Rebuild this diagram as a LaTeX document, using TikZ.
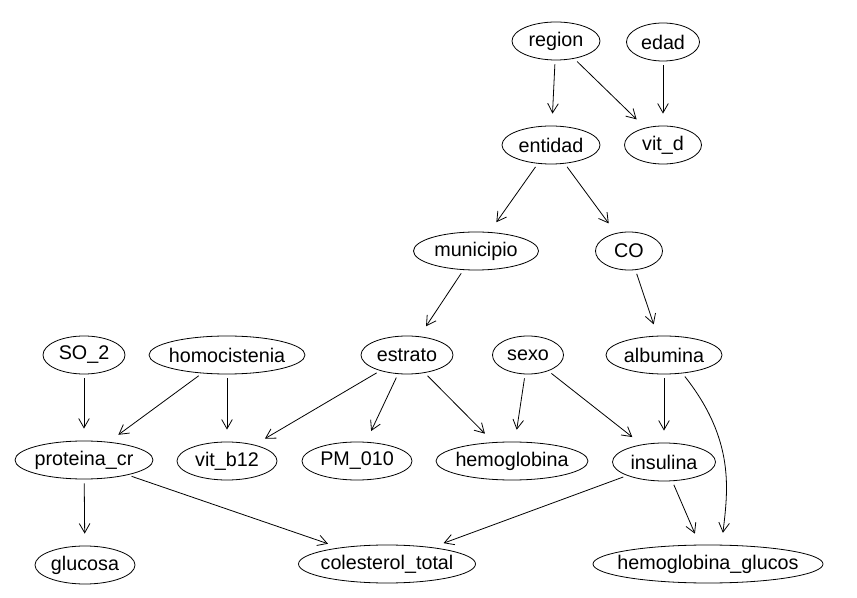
\documentclass[tikz,border=0pt]{standalone}
\usepackage{fontspec}
\setmainfont{Liberation Sans}
\usetikzlibrary{shapes.geometric,arrows.meta}
\begin{document}
\begin{tikzpicture}[x=0.75pt,y=0.75pt,
  var/.style={ellipse,draw,line width=0.6pt,inner xsep=-40pt,inner ysep=-4pt,
    minimum height=28.5pt,minimum width=#1,font=\fontsize{14.8}{18}\selectfont},
  link/.style={line width=0.6pt,-{Straight Barb[length=7pt,width=8pt]},
    shorten <=3pt,shorten >=9pt}]
  \useasboundingbox (0,0) rectangle (857,-598);
  % nodes
  \node[var=66pt]     (region)    at (556,-41)  {region};
  \node[var=54.75pt]  (edad)      at (663,-42)  {edad};
  \node[var=73.5pt]   (entidad)   at (551,-145) {entidad};
  \node[var=57.75pt]  (vitd)      at (663,-145) {vit\_d};
  \node[var=93.75pt]  (municipio) at (476,-251) {municipio};
  \node[var=50.25pt]  (CO)        at (629,-251) {CO};
  \node[var=61.5pt]   (SO2)       at (84,-355)  {SO\_2};
  \node[var=117pt]    (homo)      at (227,-355) {homocistenia};
  \node[var=69pt]     (estrato)   at (407,-355) {estrato};
  \node[var=53.25pt]  (sexo)      at (528,-355) {sexo};
  \node[var=87pt]     (albumina)  at (664,-355) {albumina};
  \node[var=103.5pt]  (proteina)  at (84,-460)  {proteina\_cr};
  \node[var=75pt]     (vitb)      at (227,-461) {vit\_b12};
  \node[var=82.5pt]   (PM)        at (357,-461) {PM\_010};
  \node[var=114pt]    (hemo)      at (512,-461) {hemoglobina};
  \node[var=77.25pt]  (insulina)  at (664,-462) {insulina};
  \node[var=75pt]     (glucosa)   at (85,-565)  {glucosa};
  \node[var=132.75pt] (colest)    at (387,-564) {colesterol\_total};
  \node[var=172.5pt]  (hemoglu)   at (708,-564) {hemoglobina\_glucos};
  % edges
  \draw[link] (region) -- (entidad);
  \draw[link] (region) -- (vitd);
  \draw[link] (edad) -- (vitd);
  \draw[link] (entidad) -- (municipio);
  \draw[link] (entidad) -- (CO);
  \draw[link] (municipio) -- (estrato);
  \draw[link] (CO) -- (albumina);
  \draw[link] (SO2) -- (proteina);
  \draw[link] (homo) -- (proteina);
  \draw[link] (homo) -- (vitb);
  \draw[link] (estrato) -- (vitb);
  \draw[link] (estrato) -- (PM);
  \draw[link] (estrato) -- (hemo);
  \draw[link] (sexo) -- (hemo);
  \draw[link] (sexo) -- (insulina);
  \draw[link] (albumina) -- (insulina);
  \draw[link] (albumina.-45) .. controls (735,-440) and (728,-490) .. (hemoglu.55);
  \draw[link] (proteina) -- (glucosa);
  \draw[link] (proteina) -- (colest);
  \draw[link] (insulina) -- (colest);
  \draw[link] (insulina) -- (hemoglu);
\end{tikzpicture}
\end{document}
